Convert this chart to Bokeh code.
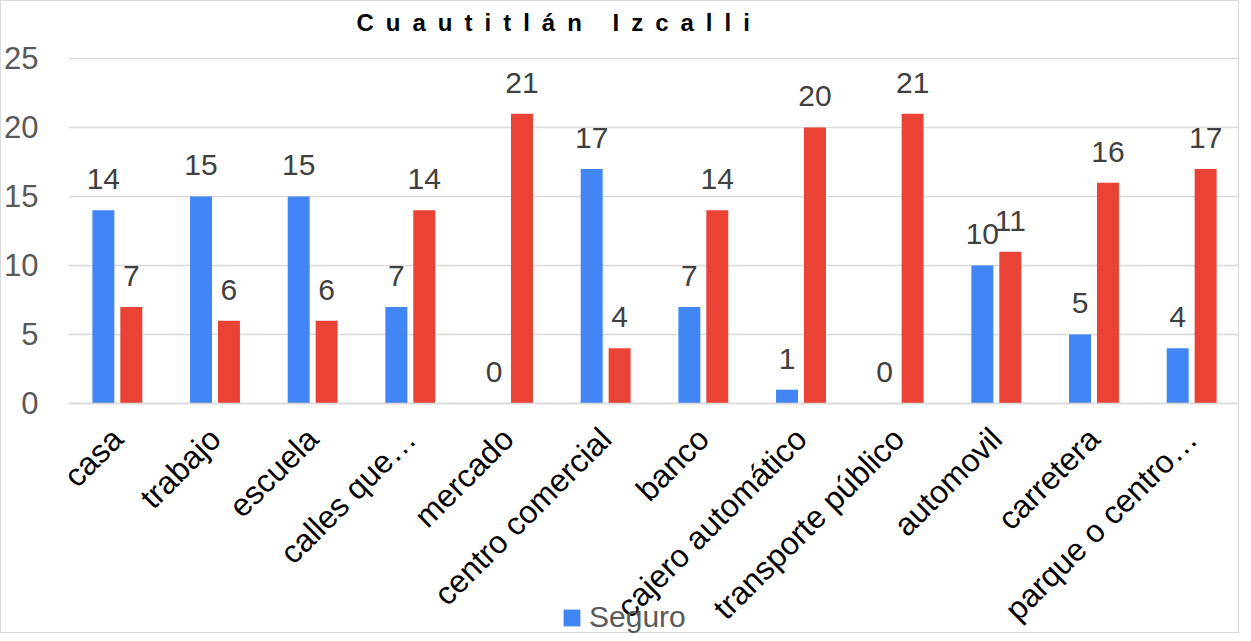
import math
from bokeh.plotting import figure
from bokeh.models import ColumnDataSource, FactorRange, Legend, LegendItem, Range1d, Label
from bokeh.transform import dodge
from bokeh.embed import file_html
from bokeh.resources import INLINE

title_text = "Cuautitlán Izcalli"
categories = ["casa", "trabajo", "escuela", "calles que…", "mercado", "centro comercial",
              "banco", "cajero automático", "transporte público", "automovil", "carretera",
              "parque o centro…"]
seguro = [14, 15, 15, 7, 0, 17, 7, 1, 0, 10, 5, 4]
inseguro = [7, 6, 6, 14, 21, 4, 14, 20, 21, 11, 16, 17]
y_ticks = [0, 5, 10, 15, 20, 25]

FONT = "Liberation Sans"
BLUE = "#4285F4"
RED = "#EA4335"

src = ColumnDataSource(dict(
    cat=categories, seguro=seguro, inseguro=inseguro,
    seguro_lbl=[str(v) for v in seguro], inseguro_lbl=[str(v) for v in inseguro],
))

# the frame fills the canvas height; the value axis shows 0..25, the space above
# holds the title and the space below 0 holds the category labels and the legend
p = figure(x_range=FactorRange(*categories), y_range=Range1d(-16.74, 29.13),
           width=1239, height=633, output_backend="svg", toolbar_location=None,
           min_border_left=67, min_border_right=0, min_border_top=0, min_border_bottom=0)
p.styles = {"border": "1px solid #d9d9d9"}

# letter-spaced bold title
spaced = "\u2002".join(list(title_text))
p.add_layout(Label(x=288, y=612, x_units="screen", y_units="screen", text=spaced,
                   text_font=FONT, text_font_size="24px", text_font_style="bold",
                   text_color="#000000", text_baseline="alphabetic", text_align="left"))

w = 0.225
off = 0.143
rb = p.vbar(x=dodge("cat", -off, range=p.x_range), top="seguro", width=w, source=src,
            fill_color=BLUE, line_color=None)
rr = p.vbar(x=dodge("cat", off, range=p.x_range), top="inseguro", width=w, source=src,
            fill_color=RED, line_color=None)

lbl_kw = dict(text_font_size="30px", text_color="#404040", text_align="center",
              text_baseline="alphabetic", y_offset=-31)
p.text(x=dodge("cat", -off, range=p.x_range), y="seguro", text="seguro_lbl", source=src,
       text_font={"value": FONT}, **lbl_kw)
p.text(x=dodge("cat", off, range=p.x_range), y="inseguro", text="inseguro_lbl", source=src,
       text_font={"value": FONT}, **lbl_kw)

p.xgrid.grid_line_color = None
p.ygrid.grid_line_color = "#d9d9d9"
p.ygrid.grid_line_width = 1.3
p.ygrid.ticker = y_ticks
p.yaxis.ticker = y_ticks
p.yaxis.axis_line_color = None
p.yaxis.major_tick_line_color = None
p.yaxis.minor_tick_line_color = None
p.yaxis.major_tick_out = 0
p.yaxis.major_label_standoff = 30
p.yaxis.major_label_text_font = FONT
p.yaxis.major_label_text_font_size = "31px"
p.yaxis.major_label_text_color = "#595959"

p.xaxis.fixed_location = 0
p.xaxis.axis_line_color = "#d9d9d9"
p.xaxis.axis_line_width = 1.3
p.xaxis.major_tick_line_color = None
p.xaxis.major_tick_out = 0
p.xaxis.major_label_orientation = math.pi / 4
p.xaxis.major_label_standoff = 30
p.xaxis.major_label_text_font = FONT
p.xaxis.major_label_text_font_size = "32px"
p.xaxis.major_label_text_color = "#000000"

p.outline_line_color = None

legend = Legend(items=[LegendItem(label="Seguro", renderers=[rb])],
                location=(493, 0), orientation="horizontal",
                glyph_width=21, glyph_height=21, label_standoff=7, padding=0, margin=0,
                border_line_color=None, background_fill_alpha=0,
                label_text_font=FONT, label_text_font_size="30px", label_text_color="#595959")
p.add_layout(legend, "center")

open("out.html", "w").write(file_html(p, INLINE))
